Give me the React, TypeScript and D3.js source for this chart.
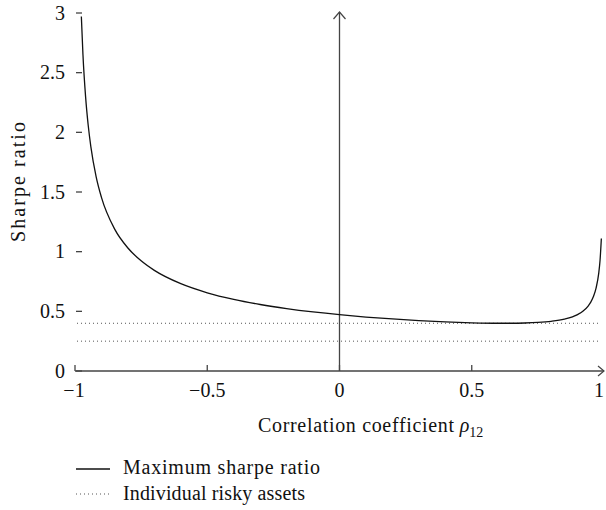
import React from "react";
import * as d3 from "d3";

const rho: number[] = [-0.976, -0.97, -0.96, -0.95, -0.94, -0.92, -0.9, -0.85, -0.8, -0.75, -0.7, -0.6, -0.5, -0.4, -0.3, -0.2, -0.1, 0, 0.1, 0.2, 0.3, 0.4, 0.5, 0.6, 0.65, 0.7, 0.75, 0.8, 0.85, 0.9, 0.92, 0.94, 0.95, 0.96, 0.97, 0.98, 0.985, 0.99];
const maxSharpe: number[] = [2.97, 2.655, 2.299, 2.057, 1.878, 1.627, 1.455, 1.189, 1.031, 0.923, 0.843, 0.7315, 0.6557, 0.6001, 0.5572, 0.5229, 0.4949, 0.4717, 0.4523, 0.436, 0.4226, 0.4119, 0.4041, 0.4002, 0.4002, 0.4022, 0.4071, 0.4167, 0.435, 0.473, 0.5007, 0.5444, 0.5774, 0.6237, 0.6944, 0.818, 0.9254, 1.1096];
const assetSharpe: number[] = [0.4, 0.25];
const xTicks: number[] = [-1, -0.5, 0, 0.5, 1];
const xTickLabels: string[] = ["\u22121", "\u22120.5", "0", "0.5", "1"];
const yTicks: number[] = [0, 0.5, 1, 1.5, 2, 2.5, 3];
const yTickLabels: string[] = ["0", "0.5", "1", "1.5", "2", "2.5", "3"];
const legendLabels: string[] = ["Maximum sharpe ratio", "Individual risky assets"];

export default function App() {
  const W = 606, H = 510;
  const x = d3.scaleLinear().domain([-1, 1]).range([75, 604]);
  const y = d3.scaleLinear().domain([0, 3]).range([371, 13]);
  const axisColor = "#444";
  const font = "'Liberation Serif', 'Times New Roman', serif";
  const fs = 20;
  const line = d3
    .line<number>()
    .x((_, i) => x(rho[i]))
    .y((d) => y(d))
    .curve(d3.curveMonotoneX);
  const y0 = y(0);
  const x0 = x(0);
  return (
    <svg width={W} height={H} style={{ position: "absolute", left: 0, top: 0 }} fontFamily={font}>
      {assetSharpe.map((v, i) => (
        <line key={i} x1={x(-1) + 2} x2={x(1) - 4} y1={y(v)} y2={y(v)} stroke="#555" strokeWidth={1} strokeDasharray="1 3" />
      ))}
      <line x1={x(-1)} x2={x(1)} y1={y0} y2={y0} stroke={axisColor} strokeWidth={1.3} />
      <path d={`M${x(1) - 6},${y0 - 5} L${x(1)},${y0} L${x(1) - 6},${y0 + 5}`} fill="none" stroke={axisColor} strokeWidth={1.2} />
      {xTicks.slice(0, 4).map((t, i) => (
        <line key={i} x1={x(t)} x2={x(t)} y1={y0} y2={y0 - 6} stroke={axisColor} strokeWidth={1.3} />
      ))}
      {xTicks.map((t, i) => (
        <text key={i} x={x(t) + (i === 4 ? -5 : i === 0 ? -1 : 0)} y={y0 + 26} fontSize={fs} textAnchor="middle" fill="#111">
          {xTickLabels[i]}
        </text>
      ))}
      <line x1={x0} x2={x0} y1={y0} y2={y(3) - 1} stroke={axisColor} strokeWidth={1.3} />
      <path d={`M${x0 - 6},${y(3) + 6} L${x0},${y(3) - 1} L${x0 + 6},${y(3) + 6}`} fill="none" stroke={axisColor} strokeWidth={1.2} />
      {yTicks.map((t, i) => (
        <g key={i}>
          <line x1={x(-1) + 1} x2={x(-1) + 7} y1={y(t)} y2={y(t)} stroke={axisColor} strokeWidth={1.3} />
          <text x={65} y={y(t) + 6.5} fontSize={fs} textAnchor="end" fill="#111">
            {yTickLabels[i]}
          </text>
        </g>
      ))}
      <path d={line(maxSharpe) || ""} fill="none" stroke="#111" strokeWidth={1.3} />
      <text x={258} y={432} fontSize={fs} fill="#111">
        <tspan textLength={196} lengthAdjust="spacing">Correlation coefficient</tspan>
        <tspan dx={5} fontStyle="italic">ρ</tspan>
        <tspan fontSize={14} dy={5}>12</tspan>
      </text>
      <text transform={`translate(25,182) rotate(-90)`} fontSize={fs} textAnchor="middle" fill="#111" textLength={120} lengthAdjust="spacing">
        Sharpe ratio
      </text>
      <line x1={76} x2={110} y1={469} y2={469} stroke="#111" strokeWidth={1.3} />
      <text x={123} y={474} fontSize={fs} fill="#111" textLength={197} lengthAdjust="spacing">{legendLabels[0]}</text>
      <line x1={76} x2={110} y1={494} y2={494} stroke="#555" strokeWidth={1} strokeDasharray="1 3" />
      <text x={123} y={500} fontSize={fs} fill="#111" textLength={182} lengthAdjust="spacing">{legendLabels[1]}</text>
    </svg>
  );
}
